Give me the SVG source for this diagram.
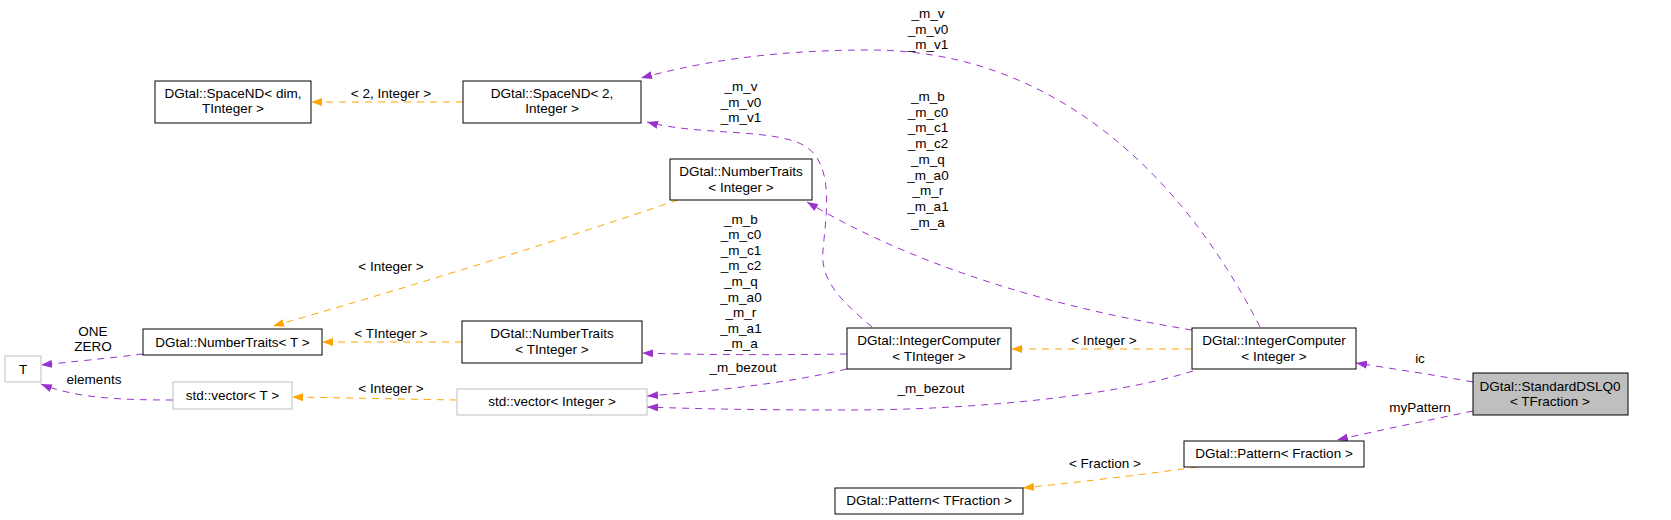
<svg xmlns="http://www.w3.org/2000/svg" width="1671" height="520" viewBox="0 0 1671 520">
<style>
text{font-family:"Liberation Sans",Arial,sans-serif;font-size:13.5px;fill:#000;text-anchor:middle}
.n rect{fill:#fff;stroke:#000;stroke-width:1}
.g rect{fill:#fff;stroke:#bfbfbf;stroke-width:1}
.p{fill:none;stroke:#9a32cd;stroke-width:1;stroke-dasharray:7,6;marker-end:url(#ap)}
.o{fill:none;stroke:#ffa500;stroke-width:1;stroke-dasharray:7,6;marker-end:url(#ao)}
</style>
<defs>
<marker id="ap" markerUnits="userSpaceOnUse" markerWidth="11" markerHeight="8" refX="11" refY="4" orient="auto"><path d="M0,0 L11,4 L0,8 z" fill="#9a32cd"/></marker>
<marker id="ao" markerUnits="userSpaceOnUse" markerWidth="11" markerHeight="8" refX="11" refY="4" orient="auto"><path d="M0,0 L11,4 L0,8 z" fill="#ffa500"/></marker>
</defs>
<rect width="1671" height="520" fill="#fff"/>
<g id="edges">
<path class="p" d="M1473,382 C1440,376 1395,369 1356,363"/>
<text x="1420" y="362.5">ic</text>
<path class="p" d="M1473,411 C1430,420 1380,430 1337,440"/>
<text x="1420" y="411.5">myPattern</text>
<path class="p" d="M1260,327 C1180,170 1050,50 870,50 C760,50 690,65 641,78"/>
<text x="928" y="17.5">_m_v</text><text x="928" y="33.5">_m_v0</text><text x="928" y="48.5">_m_v1</text>
<path class="p" d="M872,327 C840,300 820,280 823,250 C826,215 835,165 805,146 C775,128 700,136 647,122"/>
<text x="741" y="90.5">_m_v</text><text x="741" y="106.5">_m_v0</text><text x="741" y="121.5">_m_v1</text>
<path class="p" d="M1192,330 C1080,312 930,275 807,202"/>
<text x="928" y="100.5">_m_b</text><text x="928" y="116.5">_m_c0</text><text x="928" y="131.5">_m_c1</text><text x="928" y="147.5">_m_c2</text><text x="928" y="163.5">_m_q</text><text x="928" y="179.5">_m_a0</text><text x="928" y="194.5">_m_r</text><text x="928" y="210.5">_m_a1</text><text x="928" y="226.5">_m_a</text>
<path class="p" d="M847,354 C780,355 700,355 642,353"/>
<text x="741" y="223.5">_m_b</text><text x="741" y="238.5">_m_c0</text><text x="741" y="254.5">_m_c1</text><text x="741" y="269.5">_m_c2</text><text x="741" y="285.5">_m_q</text><text x="741" y="301.5">_m_a0</text><text x="741" y="316.5">_m_r</text><text x="741" y="332.5">_m_a1</text><text x="741" y="347.5">_m_a</text>
<path class="p" d="M847,369 C780,385 700,392 647,396"/>
<text x="743" y="371.5">_m_bezout</text>
<path class="p" d="M1193,371 C1100,400 950,410 850,410 C760,410 700,409 647,407"/>
<text x="931" y="392.5">_m_bezout</text>
<path class="p" d="M143,354 C110,358 70,362 41,365"/>
<text x="93" y="335.5">ONE</text><text x="93" y="350.5">ZERO</text>
<path class="p" d="M173,400 C120,400 75,398 41,384"/>
<text x="94" y="383.5">elements</text>
<path class="o" d="M463,102 L311,102"/>
<text x="391" y="97.5">&lt; 2, Integer &gt;</text>
<path class="o" d="M678,200 C560,240 400,290 273,326"/>
<text x="391" y="270.5">&lt; Integer &gt;</text>
<path class="o" d="M462,342 L322,342"/>
<text x="391" y="337.5">&lt; TInteger &gt;</text>
<path class="o" d="M457,400 C400,399 350,398 292,397"/>
<text x="391" y="392.5">&lt; Integer &gt;</text>
<path class="o" d="M1192,349 L1011,349"/>
<text x="1104" y="344.5">&lt; Integer &gt;</text>
<path class="o" d="M1197,467 C1140,475 1080,482 1023,488"/>
<text x="1105" y="467.5">&lt; Fraction &gt;</text>
</g>
<g id="n_sdslq0" class="n"><rect x="1473" y="373" width="155" height="42" style="fill:#bfbfbf"/><text x="1550" y="390.5">DGtal::StandardDSLQ0</text><text x="1550" y="405.5">&lt; TFraction &gt;</text></g>
<g id="n_ic_int" class="n"><rect x="1192" y="328" width="164" height="41"/><text x="1274" y="344.5">DGtal::IntegerComputer</text><text x="1274" y="360.5">&lt; Integer &gt;</text></g>
<g id="n_ic_tint" class="n"><rect x="847" y="328" width="164" height="41"/><text x="929" y="344.5">DGtal::IntegerComputer</text><text x="929" y="360.5">&lt; TInteger &gt;</text></g>
<g id="n_nt_int" class="n"><rect x="670" y="159" width="142" height="41"/><text x="741" y="175.5">DGtal::NumberTraits</text><text x="741" y="191.5">&lt; Integer &gt;</text></g>
<g id="n_space2" class="n"><rect x="463" y="81" width="178" height="42"/><text x="552" y="97.5">DGtal::SpaceND&lt; 2,</text><text x="552" y="112.5">Integer &gt;</text></g>
<g id="n_spacedim" class="n"><rect x="155" y="81" width="156" height="42"/><text x="233" y="97.5">DGtal::SpaceND&lt; dim,</text><text x="233" y="112.5">TInteger &gt;</text></g>
<g id="n_nt_t" class="n"><rect x="143" y="329" width="179" height="26"/><text x="232.5" y="346.5">DGtal::NumberTraits&lt; T &gt;</text></g>
<g id="n_nt_tint" class="n"><rect x="462" y="321" width="180" height="42"/><text x="552" y="337.5">DGtal::NumberTraits</text><text x="552" y="353.5">&lt; TInteger &gt;</text></g>
<g id="n_t" class="g"><rect x="5" y="356" width="36" height="26"/><text x="23" y="373.5">T</text></g>
<g id="n_vec_t" class="g"><rect x="173" y="382" width="119" height="27"/><text x="232.5" y="399.5">std::vector&lt; T &gt;</text></g>
<g id="n_vec_int" class="g"><rect x="457" y="389" width="190" height="26"/><text x="552" y="406">std::vector&lt; Integer &gt;</text></g>
<g id="n_pat_frac" class="n"><rect x="1184" y="441" width="180" height="26"/><text x="1274" y="458">DGtal::Pattern&lt; Fraction &gt;</text></g>
<g id="n_pat_tfrac" class="n"><rect x="835" y="488" width="188" height="26"/><text x="929" y="505">DGtal::Pattern&lt; TFraction &gt;</text></g>
</svg>
